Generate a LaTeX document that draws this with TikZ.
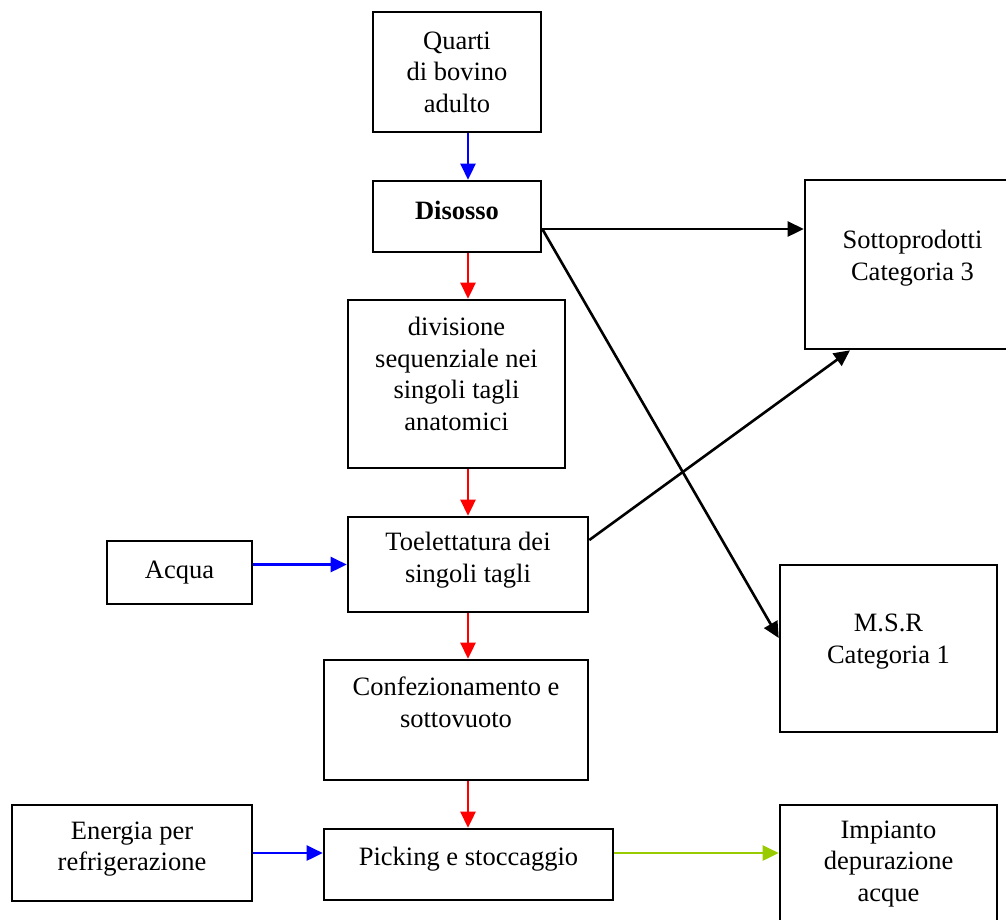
\documentclass[tikz,border=0pt]{standalone}
\usepackage{fontspec}
\setmainfont{Liberation Serif}
\usetikzlibrary{arrows.meta,positioning,calc}
\definecolor{verde}{RGB}{153,204,0}

\begin{document}
\begin{tikzpicture}[x=1pt,y=-1pt,>={Triangle[length=16pt,width=15pt]},
  box/.style={draw,line width=2.6pt,align=center,inner sep=4pt,font=\fontsize{26.5}{31.5}\selectfont},
  flow/.style={->,line width=2.6pt}]
  \clip (0,0) rectangle (1006,919);
  % linea principale
  \node [box,minimum width=168pt,minimum height=120pt] (quarti) at (457,72) {Quarti\\di bovino\\adulto};
  \node [box,minimum width=168pt,minimum height=71pt,text depth=12pt] (disosso) at (457,216.5) {\textbf{Disosso}};
  \node [box,minimum width=217pt,minimum height=168pt,text depth=20pt] (divis) at (456.5,384) {divisione\\sequenziale nei\\singoli tagli\\anatomici};
  \node [box,minimum width=240pt,minimum height=95pt,text depth=14pt] (toel) at (468,564.5) {Toelettatura dei\\singoli tagli};
  \node [box,minimum width=264pt,minimum height=120pt,text depth=36pt] (confez) at (456,720) {Confezionamento e\\sottovuoto};
  \node [box,minimum width=289pt,minimum height=71pt,text depth=16pt] (picking) at (468.5,864.5) {Picking e stoccaggio};
  % ingressi
  \node [box,minimum width=145pt,minimum height=63pt] (acqua) at (179.5,572.5) {Acqua};
  \node [box,minimum width=240pt,minimum height=96pt,text depth=14pt] (energia) at (132,853) {Energia per\\refrigerazione};
  % uscite
  \node [box,minimum width=215pt,minimum height=169pt,text depth=18pt] (sotto) at (912.5,264.5) {Sottoprodotti\\Categoria 3};
  \node [box,minimum width=217pt,minimum height=167pt,text depth=20pt] (msr) at (888.5,648.5) {M.S.R\\Categoria 1};
  \node [box,minimum width=217pt,minimum height=120pt,text depth=8pt] (impianto) at (888.5,865) {Impianto\\depurazione\\acque};

  \coordinate (axis) at (468,0);
  \coordinate (dsy) at (0,229);
  \draw [flow,blue] (quarti.south -| axis) -- (disosso.north -| axis);
  \draw [flow,red] (disosso.south -| axis) -- (divis.north -| axis);
  \draw [flow,red] (divis.south -| axis) -- (toel.north -| axis);
  \draw [flow,red] (toel.south -| axis) -- (confez.north -| axis);
  \draw [flow,red] (confez.south -| axis) -- (picking.north -| axis);
  \draw [flow,blue] (acqua.east |- toel.west) -- (toel.west);
  \draw [flow,blue] (energia.east) -- (picking.west |- energia.east);
  \draw [flow,verde] (picking.east |- energia.east) -- (impianto.west |- energia.east);
  \draw [flow] (disosso.east |- dsy) -- (sotto.west |- dsy);
  \draw [flow] (disosso.east |- dsy) -- (msr.west |- 0,638);
  \draw [flow] (toel.east |- 0,540) -- (sotto.south -| 850,0);
\end{tikzpicture}
\end{document}
